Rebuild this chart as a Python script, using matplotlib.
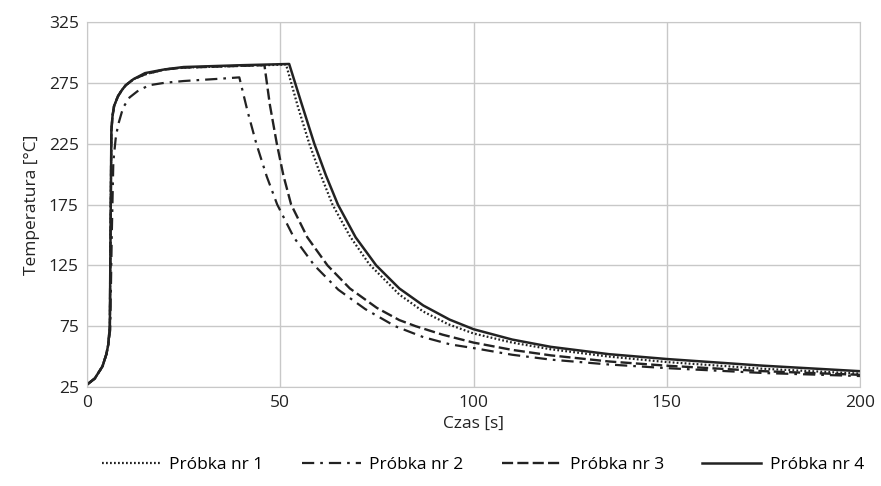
import matplotlib.pyplot as plt

plt.rcParams["font.family"] = ["Open Sans", "DejaVu Sans"]

# Próbka nr 1 (dotted)
t1 = [0, 2, 4, 5, 5.5, 5.9, 6.1, 6.3, 6.6, 7, 8, 9, 10, 12, 15, 20, 25, 30, 40, 51.5,
      54.5, 57.5, 60, 63.5, 68, 73, 80.8, 87, 93.5, 100, 110, 120, 135, 150, 175, 200]
T1 = [27, 32, 42, 52, 60, 75, 160, 236, 248, 256, 264, 269, 273, 278, 282, 286, 287.5, 288, 289, 290,
      256, 225, 203, 175, 149, 126, 101, 87, 76.5, 69, 61.5, 56, 50, 45.5, 40, 36]

# Próbka nr 2 (dash-dot)
t2 = [0, 2, 4, 5, 5.5, 6, 6.4, 6.8, 7.4, 8, 9, 9.6, 11, 13, 16, 20, 25, 30, 35, 39.4,
      41.5, 43.8, 46.5, 49.2, 53.5, 58.8, 65, 72, 79.7, 87, 94, 100, 110, 120, 135, 150, 175, 200]
T2 = [27, 32, 42, 52, 60, 72, 150, 210, 229, 240, 251, 256, 263, 268, 273, 275, 276.5, 277.5, 278.5, 279.5,
      252, 225, 198, 175, 148, 125, 105, 89, 75, 66, 60, 57, 51.5, 47.5, 43.5, 40.5, 36.5, 34]

# Próbka nr 3 (dashed)
t3 = [0, 2, 4, 5, 5.5, 5.9, 6.1, 6.3, 6.6, 7, 8, 9, 10, 12, 15, 20, 25, 30, 40, 45.9,
      47.3, 49.1, 50.8, 52.8, 57, 62.2, 68, 75, 80.8, 85, 92, 100, 110, 120, 135, 150, 175, 200]
T3 = [27, 32, 42, 52, 60, 75, 160, 236, 248, 256, 264, 269, 273, 278, 282, 286, 287.5, 288, 289, 289.5,
      257, 225, 199, 175, 148, 125, 106, 90, 80, 75, 68, 61.5, 55.5, 51, 46, 42.5, 38, 35]

# Próbka nr 4 (solid)
t4 = [0, 2, 4, 5, 5.5, 5.9, 6.1, 6.3, 6.6, 7, 8, 9, 10, 12, 15, 20, 25, 30, 40, 52.3,
      55.5, 58.8, 61.8, 64.9, 69.5, 74.8, 80.8, 87, 93.8, 100, 110, 120, 135, 150, 175, 200]
T4 = [27, 32, 42, 52, 60, 75, 160, 236, 248, 256, 264, 269, 273, 278, 283, 286, 288, 288.5, 289.5, 290.5,
      258, 225, 199, 175, 148, 125, 106, 92, 80.4, 72.5, 64, 58, 52, 48, 42.5, 38]

labels = ["Próbka nr 1", "Próbka nr 2", "Próbka nr 3", "Próbka nr 4"]
x_ticks = [0, 50, 100, 150, 200]
y_ticks = [25, 75, 125, 175, 225, 275, 325]

fig = plt.figure(figsize=(8.81, 4.86), dpi=100)
ax = fig.add_axes([0.0988, 0.2037, 0.8774, 0.7510])

ax.plot(t1, T1, color="#222222", lw=1.6, linestyle=(0, (0.8, 1.0)), label=labels[0])
ax.plot(t2, T2, color="#222222", lw=1.6, linestyle=(0, (5.5, 2.7, 1.2, 2.7)), label=labels[1])
ax.plot(t3, T3, color="#222222", lw=1.7, linestyle=(0, (4.7, 1.8)), label=labels[2])
ax.plot(t4, T4, color="#222222", lw=1.8, linestyle="-", label=labels[3])

ax.set_xlim(0, 200)
ax.set_ylim(25, 325)
ax.set_xticks(x_ticks)
ax.set_yticks(y_ticks)
ax.grid(True, color="#c8c8c8", lw=1.0)
ax.set_axisbelow(True)
for s in ax.spines.values():
    s.set_color("#c8c8c8")
ax.tick_params(length=0, labelsize=12.5, colors="#222222", pad=6)

ax.set_xlabel("Czas [s]", fontsize=12.5, color="#222222", labelpad=3)
ax.set_ylabel("Temperatura [°C]", fontsize=12.5, color="#222222", labelpad=6)

fig.legend(loc="center", bbox_to_anchor=(0.548, 0.043), ncol=4, frameon=False,
           fontsize=12.5, handlelength=3.4, columnspacing=2.2, handletextpad=0.5)

fig.savefig("out.png", dpi=100)
